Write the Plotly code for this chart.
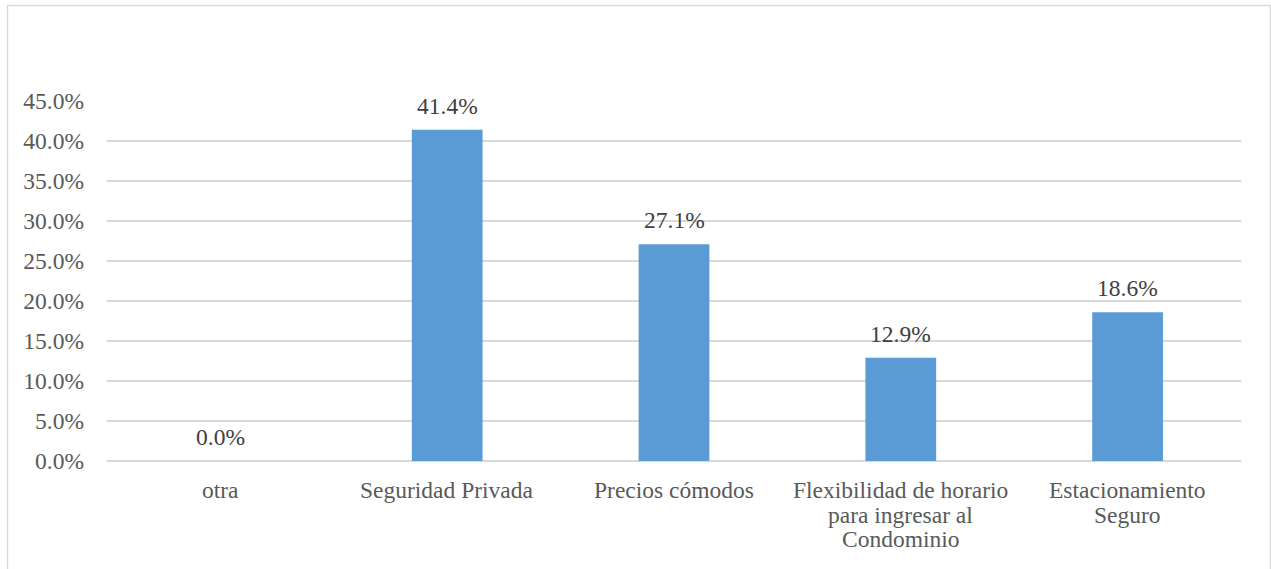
import plotly.graph_objects as go

categories = [
    "otra",
    "Seguridad Privada",
    "Precios cómodos",
    "Flexibilidad de horario\npara ingresar al\nCondominio",
    "Estacionamiento\nSeguro",
]
shares = [0.0, 41.4, 27.1, 12.9, 18.6]  # percent
y_ticks = [0, 5, 10, 15, 20, 25, 30, 35, 40, 45]
y_tick_labels = [f"{v:.1f}%" for v in y_ticks]

FONT = "Liberation Serif"
TEXT = "#595959"
SIZE = 23.5
W, H = 1271, 569
ML, MR, MT, MB = 107, 30, 101, 108

fig = go.Figure()
fig.add_trace(go.Bar(
    x=list(range(len(categories))),
    y=shares,
    width=0.312,
    marker=dict(color="#5B9BD5", line=dict(width=0)),
    hoverinfo="skip",
))

# value labels above each bar
for i, v in enumerate(shares):
    fig.add_annotation(
        x=i, y=v, xref="x", yref="y",
        text=f"{v:.1f}%", showarrow=False,
        yanchor="bottom", yshift=9,
        font=dict(family=FONT, size=SIZE, color="#404040"),
    )

# category labels, one line at a time for tight line spacing
for i, name in enumerate(categories):
    for k, line in enumerate(name.split("\n")):
        fig.add_annotation(
            x=i, y=0, xref="x", yref="y",
            text=line, showarrow=False,
            yanchor="middle", yshift=-(29 + 24.5 * k),
            font=dict(family=FONT, size=SIZE, color=TEXT),
        )

pw = W - ML - MR
ph = H - MT - MB
# chart frame
fig.add_shape(
    type="rect", xref="paper", yref="paper",
    x0=(7.5 - ML) / pw, x1=(1270.5 - ML) / pw,
    y0=(H - MB - 580) / ph, y1=(H - MB - 5.5) / ph,
    line=dict(color="#D9D9D9", width=1.5), fillcolor="rgba(0,0,0,0)",
    layer="below",
)

fig.update_layout(
    width=W, height=H,
    margin=dict(l=ML, r=MR, t=MT, b=MB, pad=0),
    paper_bgcolor="white", plot_bgcolor="white",
    showlegend=False,
    font=dict(family=FONT, size=SIZE, color=TEXT),
    xaxis=dict(
        range=[-0.5, len(categories) - 0.5],
        showticklabels=False,
        showgrid=False, zeroline=False,
        showline=False, ticks="",
        automargin=False,
        fixedrange=True,
    ),
    yaxis=dict(
        range=[0, 45],
        tickmode="array",
        tickvals=y_ticks,
        ticktext=y_tick_labels,
        showgrid=True, gridcolor="#D9D9D9", gridwidth=1.5,
        zeroline=True, zerolinecolor="#D9D9D9", zerolinewidth=1.5,
        showline=False, ticks="",
        ticklabelstandoff=22,
        automargin=False,
        tickfont=dict(family=FONT, size=SIZE, color=TEXT),
        fixedrange=True,
    ),
)

fig.write_html("out.html", config={"displayModeBar": False})
